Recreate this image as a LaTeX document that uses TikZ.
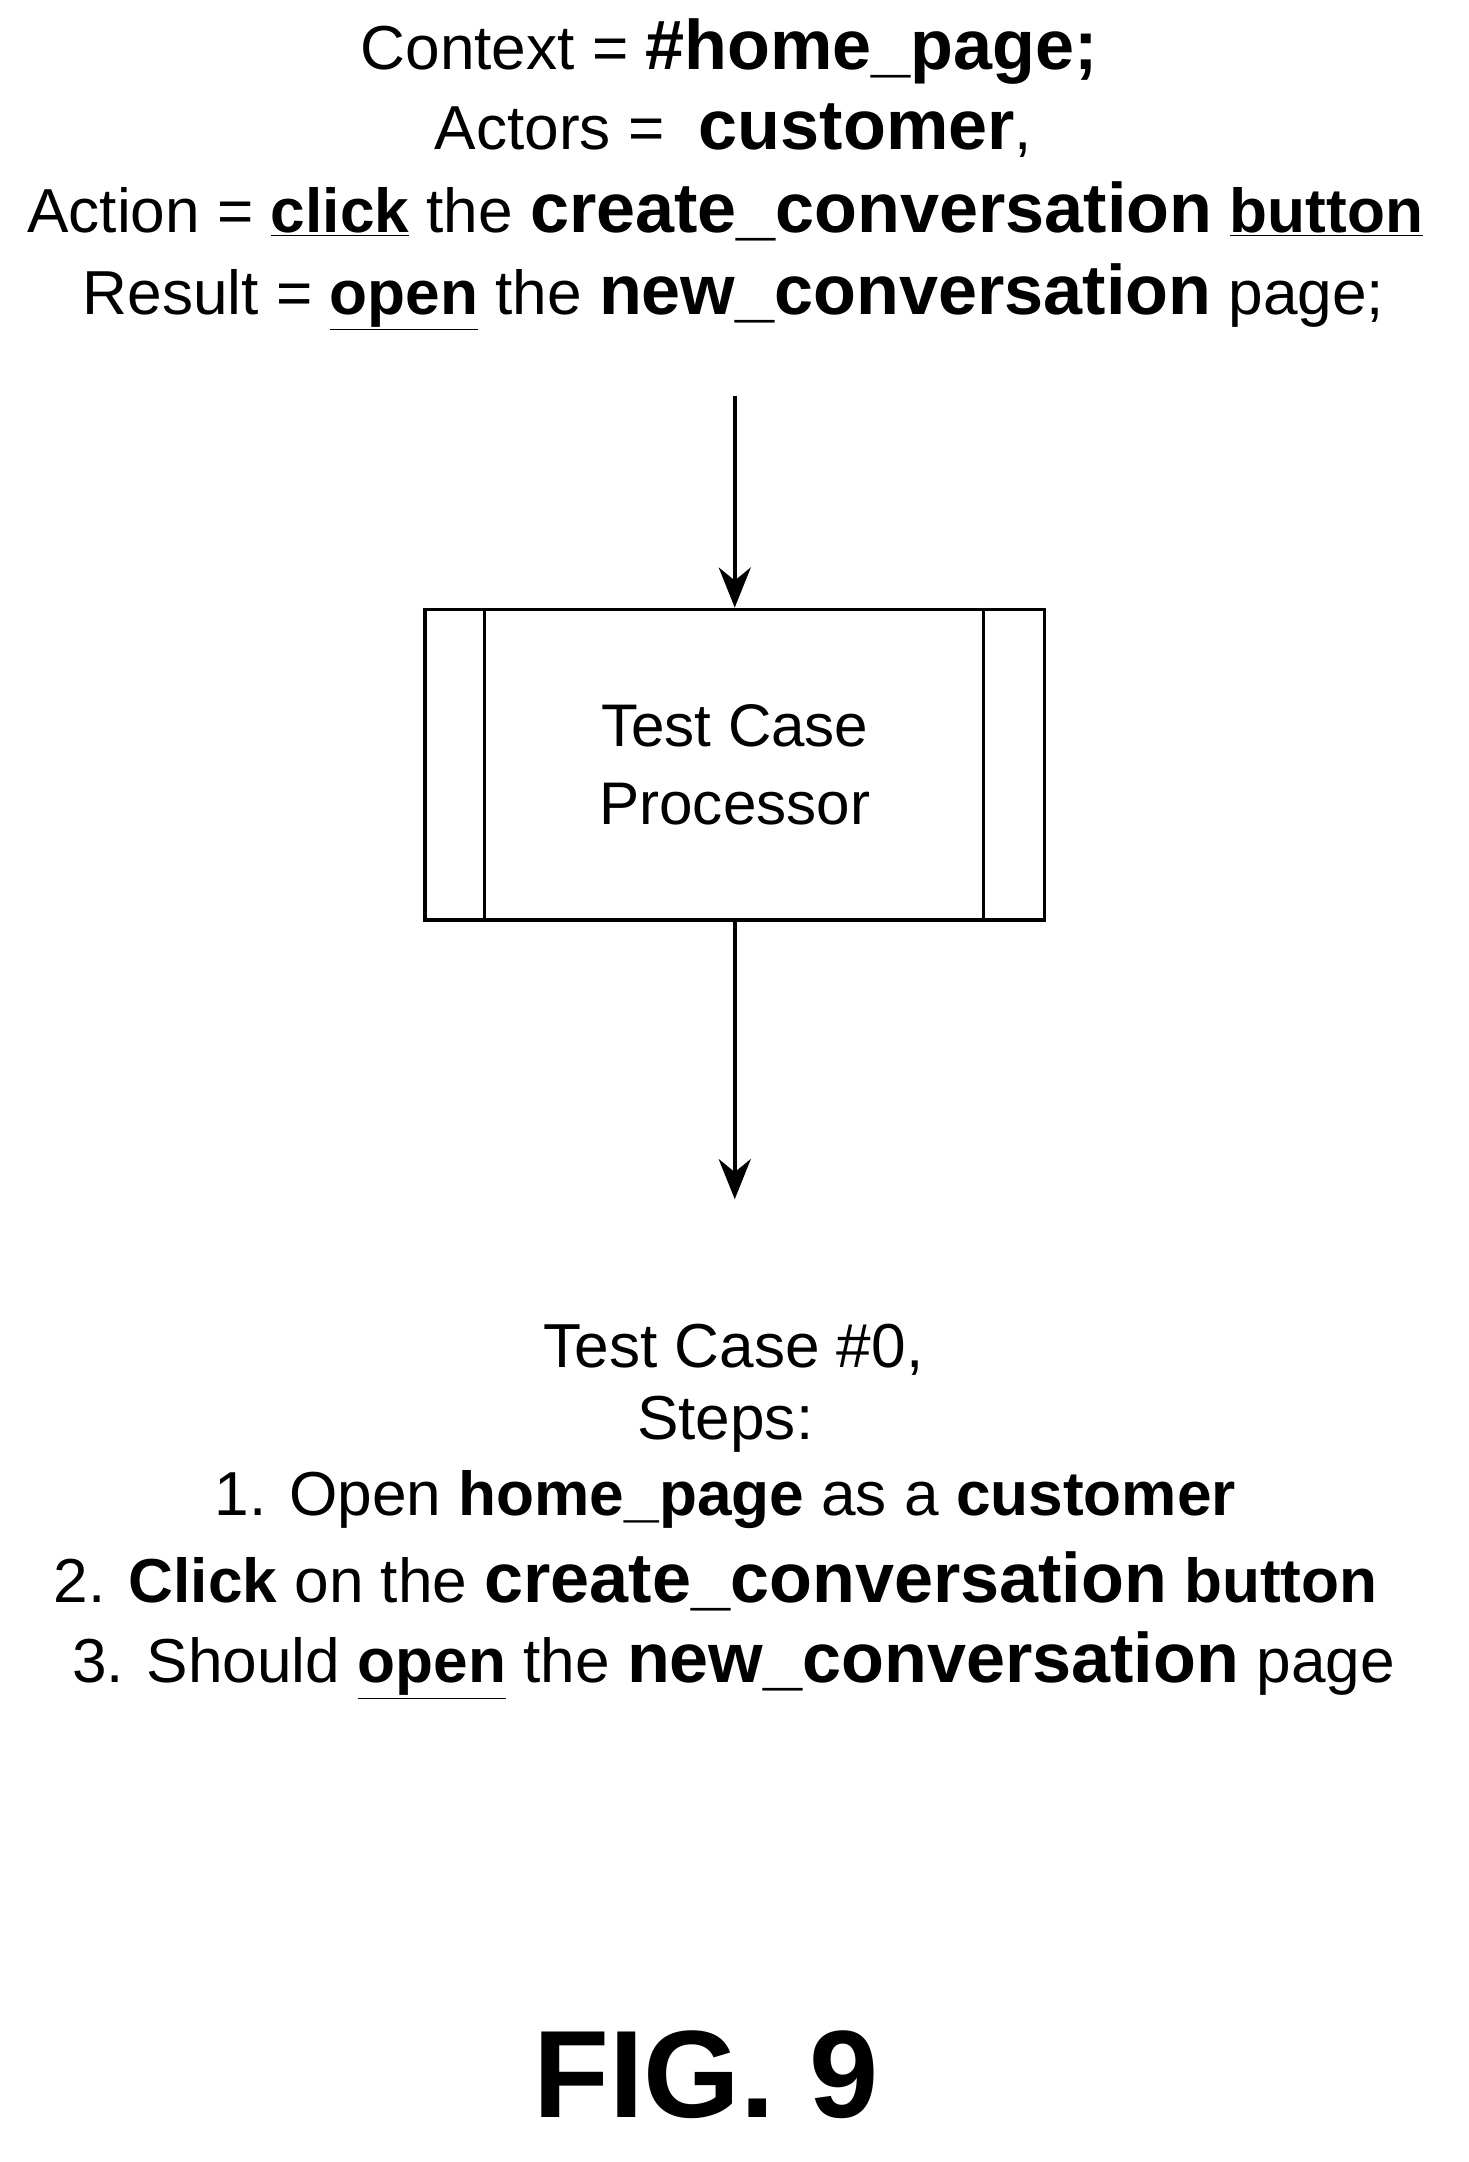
\documentclass[tikz,border=0pt]{standalone}
\usepackage{fontspec}
\setmainfont{Liberation Sans}
\usetikzlibrary{arrows.meta}
\usetikzlibrary{positioning}
\usetikzlibrary{calc}
\tikzset{
  >={Stealth[length=20pt,width=16pt]},
  txt/.style={inner sep=0pt, font=\fontsize{31}{36}\selectfont},
  line/.style={draw, ->, line width=1.8pt},
  proc/.style={draw, rectangle, line width=1.8pt, minimum width=309pt, minimum height=155pt, align=center, font=\fontsize{30}{39}\selectfont}
}
\newcommand{\bt}[1]{{\fontsize{35}{36}\selectfont\bfseries #1}}
\newcommand{\ut}[1]{\underline{\bfseries #1}}

\begin{document}
\begin{tikzpicture}[x=0.68pt, y=-0.68pt]
    \useasboundingbox (0,0) rectangle (1077,1586);

    % Top description
    \node [txt] (context) at (535,38) {Context = \bt{\#home\_page;}};
    \node [txt] (actors) at (538,96) {Actors = \ \bt{customer},};
    \node [txt] (action) at (532,155) {Action = \ut{click} the \bt{create\_conversation} \ut{button}};
    \node [txt] (result) at (538,218) {Result = \ut{open} the \bt{new\_conversation} page;};

    % Processor
    \node [proc] (processor) at (539,561) {Test Case\\Processor};
    \draw [line width=1.8pt] ($(processor.north west)+(45,0)$) -- ($(processor.south west)+(45,0)$);
    \draw [line width=1.8pt] ($(processor.north east)+(-46,0)$) -- ($(processor.south east)+(-46,0)$);

    % Generated test case
    \node [txt] (testcase) at (538,990) {Test Case \#0,};
    \node [txt] (steps) at (532,1045) {Steps:};
    \node [txt] (stepone) at (532,1100) {1. Open \textbf{home\_page} as a \textbf{customer}};
    \node [txt] (steptwo) at (525,1160) {2. \textbf{Click} on the \bt{create\_conversation} \textbf{button}};
    \node [txt] (stepthree) at (538,1222) {3. Should \ut{open} the \bt{new\_conversation} page};

    \node [txt, font=\fontsize{62}{62}\selectfont\bfseries] (fig) at (518,1522) {FIG. 9};

    % Connectors
    \path [line, shorten <=32pt] (result.south -| processor.north) -- (processor.north);
    \path [line, shorten >=62pt] (processor.south) -- (processor.south |- testcase.north);
\end{tikzpicture}
\end{document}
